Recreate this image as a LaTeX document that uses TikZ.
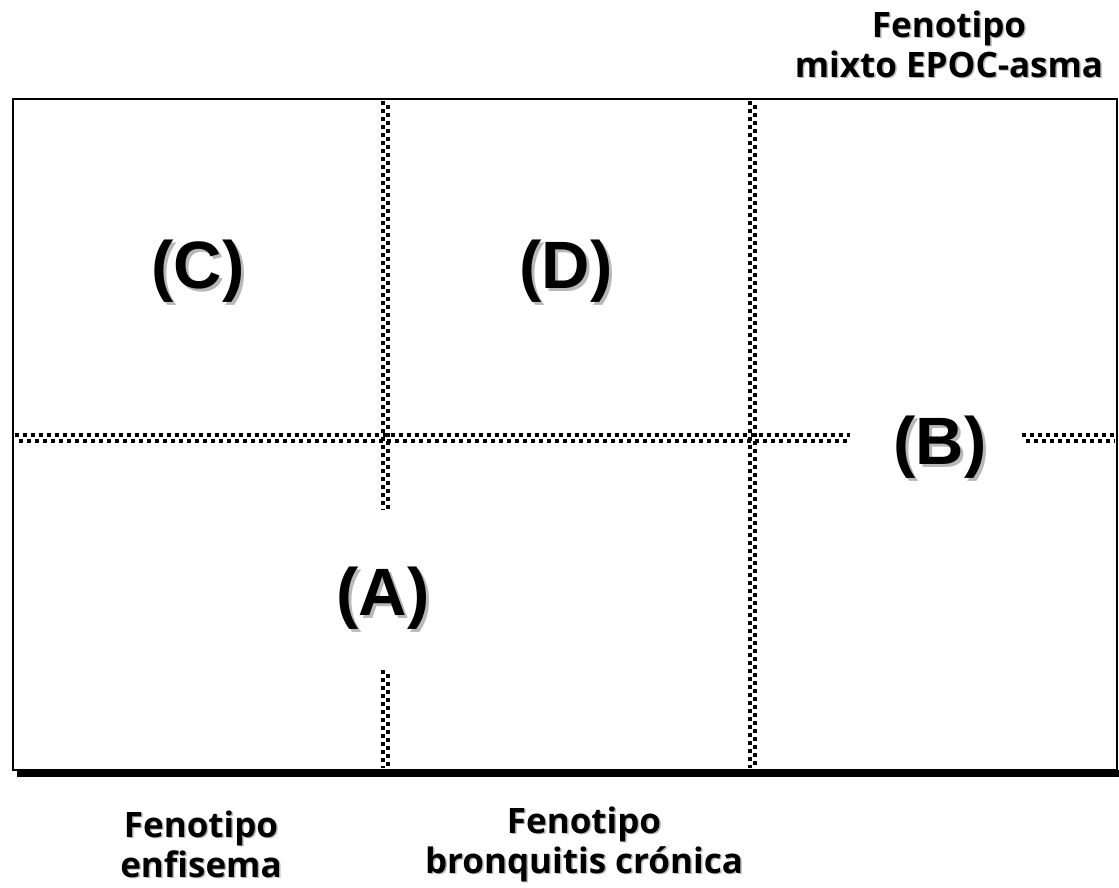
\documentclass[tikz,border=0pt]{standalone}
\usepackage{fontspec}
\newfontfamily\letterfont{Liberation Sans}
\newfontfamily\capfont{Open Sans}
% text with a soft grey shadow behind it
\newcommand\shadowed[2]{%
  \rlap{\hspace{#1}\raisebox{-#1}{\color{black!28}#2}}#2}
\begin{document}
\begin{tikzpicture}[x=1pt,y=-1pt,
  frame/.style={line width=2.4pt,draw=black},
  chk/.style={line width=3.6pt,dash pattern=on 3.6pt off 4.4pt},
  letter/.style={font=\letterfont\bfseries\fontsize{67}{67}\selectfont,inner sep=0pt},
  caption/.style={font=\capfont\bfseries\fontsize{35}{40}\selectfont,align=center,inner sep=0pt}]
\useasboundingbox (0,0) rectangle (1119,887);
% frame corners
\coordinate (tl) at (13,99);
\coordinate (br) at (1117,770);
% drop shadow under the frame
\fill[black] (17,770) rectangle (1119,777);
\draw[frame] (tl) rectangle (br);
% checkered dividers (two offset rows of squares)
\newcommand\checkline[2]{%
  \draw[chk] #1;
  \draw[chk,dash phase=4pt] #2;}
% vertical divider at x=385, broken around (A)
\checkline{(383,101) -- (383,510)}{(388,101) -- (388,510)}
\checkline{(383,670) -- (383,768)}{(388,670) -- (388,768)}
% vertical divider at x=752
\checkline{(750,101) -- (750,768)}{(755,101) -- (755,768)}
% horizontal divider at y=438, broken around (B)
\checkline{(15,435) -- (850,435)}{(15,441) -- (850,441)}
\checkline{(1022,435) -- (1115,435)}{(1022,441) -- (1115,441)}
% quadrant letters
\node[letter] (A) at (383,600) {\shadowed{3pt}{(A)}};
\node[letter] (B) at (940,449) {\shadowed{3pt}{(B)}};
\node[letter] (C) at (198,273) {\shadowed{3pt}{(C)}};
\node[letter] (D) at (566,273) {\shadowed{3pt}{(D)}};
% phenotype captions
\node[caption] (mixto) at (949,45)
  {\shadowed{1.5pt}{Fenotipo}\\\shadowed{1.5pt}{mixto EPOC-asma}};
\node[caption] (enf) at (201,845)
  {\shadowed{1.5pt}{Fenotipo}\\\shadowed{1.5pt}{enfisema}};
\node[caption] (bronq) at (584,845)
  {\shadowed{1.5pt}{Fenotipo}\\\shadowed{1.5pt}{bronquitis crónica}};
\end{tikzpicture}
\end{document}
